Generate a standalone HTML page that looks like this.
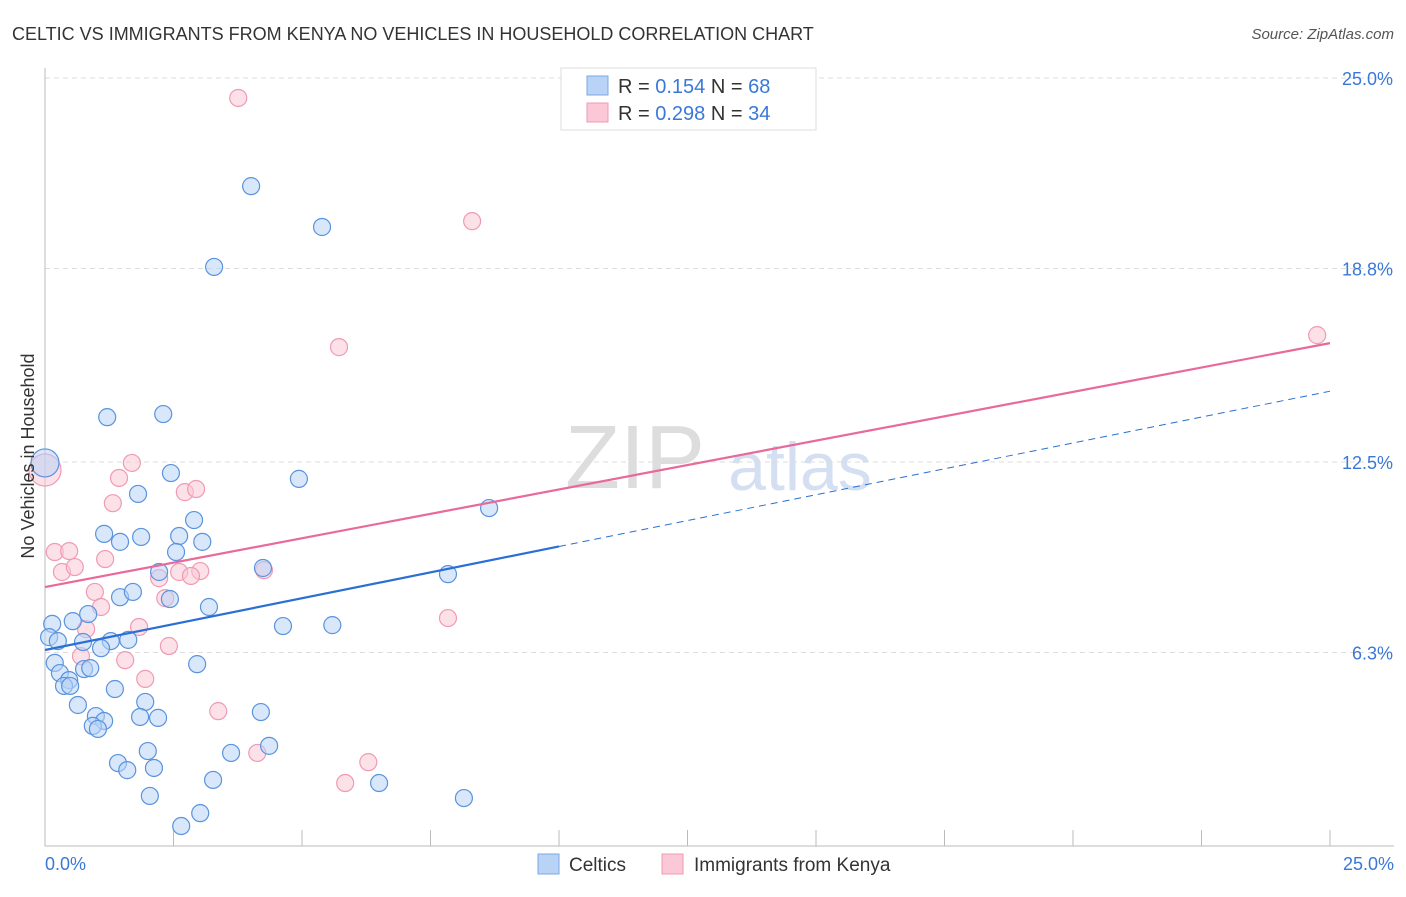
<!DOCTYPE html>
<html><head><meta charset="utf-8"><style>
body{margin:0;background:#fff;font-family:"Liberation Sans",sans-serif}
svg text{font-family:"Liberation Sans",sans-serif}
</style></head><body>
<svg width="1406" height="892" viewBox="0 0 1406 892" xmlns="http://www.w3.org/2000/svg">
<text x="12" y="40" font-size="18" fill="#333">CELTIC VS IMMIGRANTS FROM KENYA NO VEHICLES IN HOUSEHOLD CORRELATION CHART</text>
<text x="1394" y="39" font-size="15" fill="#555" font-style="italic" text-anchor="end">Source: ZipAtlas.com</text>
<g>
<text x="635" y="488" font-size="90" fill="#ddd" font-family="Liberation Serif" text-anchor="middle">ZIP</text>
<text x="800" y="490" font-size="68" fill="#d4e0f2" text-anchor="middle">atlas</text>
</g>
<g id="grid"></g>
<g id="axes"></g>
<g id="marks"></g>
<g id="lines"></g>
<text transform="translate(34,456) rotate(-90)" font-size="18" fill="#333" text-anchor="middle">No Vehicles in Household</text>
<g>
<rect x="561" y="68" width="255" height="62" fill="#fff" stroke="#ddd"/>
<rect x="587" y="76" width="21" height="19" fill="#b8d3f5" stroke="#7aaae6"/>
<rect x="587" y="103" width="21" height="19" fill="#fac8d6" stroke="#f09ab3"/>
<text x="618" y="93" font-size="20" fill="#333">R = <tspan fill="#3a78d8">0.154</tspan>   N = <tspan fill="#3a78d8">68</tspan></text>
<text x="618" y="120" font-size="20" fill="#333">R = <tspan fill="#3a78d8">0.298</tspan>   N = <tspan fill="#3a78d8">34</tspan></text>
</g>
<g>
<rect x="538" y="854" width="21" height="20" fill="#b8d3f5" stroke="#7aaae6"/>
<text x="569" y="871" font-size="19" fill="#333">Celtics</text>
<rect x="662" y="854" width="21" height="20" fill="#fac8d6" stroke="#f09ab3"/>
<text x="694" y="871" font-size="19" fill="#333">Immigrants from Kenya</text>
</g>
</svg>
<script>
const yTicks=[25.0,18.8,12.5,6.3];
const yTickLabels=["25.0%","18.8%","12.5%","6.3%"];
const xTickLabels=["0.0%","25.0%"];
const celticsX=[4.01,5.39,3.29,1.21,2.30,2.45,4.94,1.81,2.90,8.64,1.15,1.46,1.87,2.61,3.06,2.55,7.84,2.22,4.24,1.46,1.71,2.43,3.19,0.84,0.54,4.63,5.59,0.14,0.08,0.25,1.28,1.62,0.74,1.09,0.19,0.76,0.88,2.96,0.29,0.47,0.37,0.49,0.64,1.36,1.95,0.99,1.15,0.93,1.03,1.85,2.20,4.20,4.36,2.00,3.62,1.42,1.60,2.12,3.27,2.04,6.50,8.15,3.02,2.65];
const celticsY=[21.48,20.15,18.85,13.96,14.06,12.14,11.95,11.46,10.61,11.00,10.16,9.90,10.06,10.09,9.90,9.57,8.85,8.92,9.05,8.10,8.27,8.04,7.78,7.55,7.32,7.16,7.19,7.23,6.80,6.67,6.67,6.71,6.64,6.44,5.96,5.76,5.79,5.92,5.63,5.40,5.21,5.21,4.59,5.11,4.69,4.23,4.07,3.91,3.81,4.20,4.17,4.36,3.26,3.09,3.03,2.70,2.47,2.54,2.15,1.63,2.05,1.56,1.07,0.65];
const kenyaX=[3.76,8.31,5.72,24.75,1.69,1.44,1.32,2.72,2.94,0.19,0.47,0.33,0.58,1.17,2.22,2.61,3.02,2.84,4.26,0.97,2.34,1.09,0.80,1.83,2.41,0.70,1.56,1.95,7.84,3.37,4.13,6.29,5.84];
const kenyaY=[24.35,20.34,16.24,16.63,12.47,11.98,11.16,11.52,11.62,9.57,9.60,8.92,9.08,9.34,8.72,8.92,8.95,8.79,8.98,8.27,8.07,7.78,7.06,7.13,6.51,6.18,6.05,5.44,7.42,4.39,3.03,2.73,2.05];
const celticsBig=[0,12.47];
const kenyaBig=[0,12.24];
const celticsTrend=[6.38,0.337];   // intercept, slope per %
const kenyaTrend=[8.43,0.3176];
const NS="http://www.w3.org/2000/svg";
const X0=45,X1=1330,Y0=846,Y1=78;
const sx=v=>X0+(v/25)*(X1-X0);
const sy=v=>Y0-(v/25)*(Y0-Y1);
function mk(tag,attrs,parent){const e=document.createElementNS(NS,tag);for(const k in attrs)e.setAttribute(k,attrs[k]);parent.appendChild(e);return e;}
const grid=document.getElementById('grid'),axes=document.getElementById('axes'),marks=document.getElementById('marks'),lines=document.getElementById('lines');
yTicks.forEach((t,i)=>{
 const l=mk('line',{x1:45,x2:1394,y1:sy(t),y2:sy(t),stroke:'#ddd','stroke-dasharray':'5,4'},grid);
 
 
 const tx=mk('text',{x:1393,y:sy(t)+7,'font-size':18,fill:'#3a78d8','text-anchor':'end'},axes);
 tx.textContent=yTickLabels[i];
 
 
});
const ax=mk('path',{d:'M45,68V846H1394',stroke:'#bbb',fill:'none'},axes);


for(let i=0;i<=10;i++){
 const t=mk('line',{x1:sx(i*2.5),x2:sx(i*2.5),y1:830,y2:846,stroke:'#bbb'},axes);
 
 
}
[[0,'start',45],[25,'end',1394]].forEach((a,i)=>{
 const tx=mk('text',{x:a[2],y:870,'font-size':18,fill:'#3a78d8','text-anchor':a[1]},axes);
 tx.textContent=xTickLabels[i];
 
 
});
function dot(x,y,r,fill,stroke,name){
 const c=mk('circle',{cx:sx(x),cy:sy(y),r:r,fill:fill,'fill-opacity':0.55,stroke:stroke,'stroke-width':1.2},marks);
 
 
}
kenyaX.forEach((x,i)=>dot(x,kenyaY[i],8.5,'#fac8d6','#f09ab3','kenya-point'));
dot(kenyaBig[0],kenyaBig[1],16,'#fac8d6','#f09ab3','kenya-point-large');
celticsX.forEach((x,i)=>dot(x,celticsY[i],8.5,'#b8d3f5','#5a93de','celtics-point'));
dot(celticsBig[0],celticsBig[1],14,'#b8d3f5','#5a93de','celtics-point-large');
const f=(tr,x)=>tr[0]+tr[1]*x;
let l1=mk('line',{x1:sx(0),y1:sy(f(kenyaTrend,0)),x2:sx(25),y2:sy(f(kenyaTrend,25)),stroke:'#e8699a','stroke-width':2.2},lines);


let l2=mk('line',{x1:sx(0),y1:sy(f(celticsTrend,0)),x2:sx(10),y2:sy(f(celticsTrend,10)),stroke:'#2a6fd6','stroke-width':2.2},lines);


let l3=mk('line',{x1:sx(10),y1:sy(f(celticsTrend,10)),x2:sx(25),y2:sy(f(celticsTrend,25)),stroke:'#2a6fd6','stroke-width':1,'stroke-dasharray':'7,5'},lines);


</script>
</body></html>
